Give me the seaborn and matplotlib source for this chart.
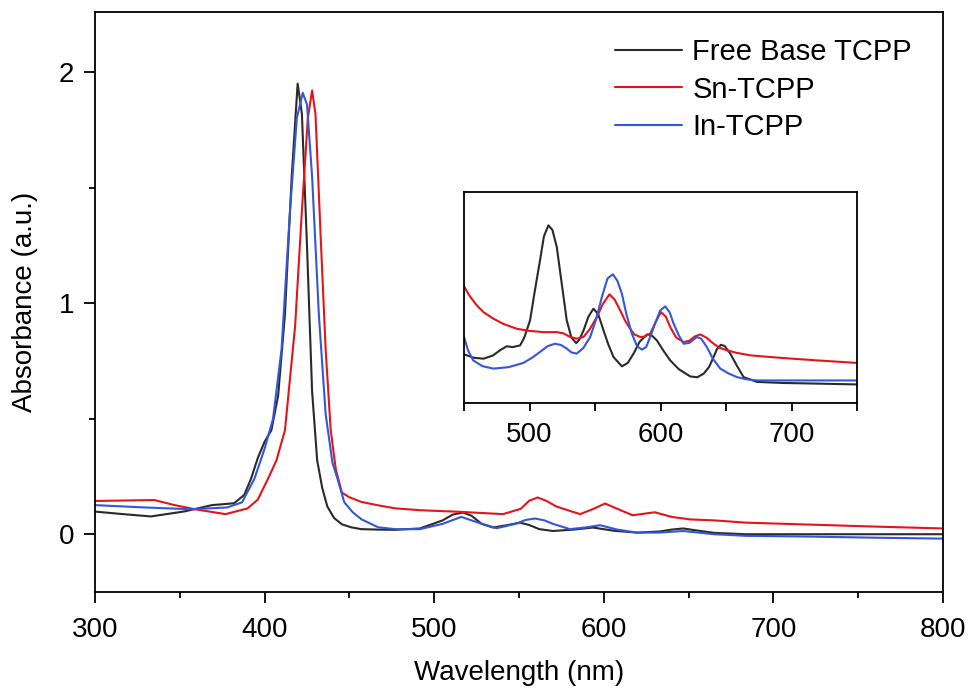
import pandas as pd
import seaborn as sns
import matplotlib.pyplot as plt
import matplotlib.ticker as ticker

# Main spectra (wavelength in nm, absorbance)
fb_wl = [300, 315, 333, 353, 369, 382, 388, 392, 396, 400, 404, 408, 412, 416, 419.5,
         422, 425, 428, 431, 434, 437, 441, 445.6, 451, 457, 467, 477, 491.6, 505, 511,
         517, 522, 528, 534.7, 542, 550.6, 556, 562, 570, 582, 593.6, 606, 619.6, 633,
         640, 646.7, 655, 665, 684, 720, 760, 800]
fb_abs = [0.098, 0.088, 0.077, 0.099, 0.126, 0.134, 0.17, 0.24, 0.33, 0.40, 0.45, 0.60,
          0.95, 1.55, 1.95, 1.82, 1.25, 0.62, 0.32, 0.20, 0.12, 0.07, 0.043, 0.03, 0.022,
          0.02, 0.019, 0.025, 0.06, 0.085, 0.094, 0.08, 0.045, 0.029, 0.038, 0.05, 0.04,
          0.022, 0.014, 0.02, 0.029, 0.015, 0.007, 0.012, 0.02, 0.025, 0.016, 0.006,
          0.0, 0.0, 0.0, 0.0]

sn_wl = [300, 335, 347, 359, 377, 390, 396, 402, 407, 412, 418, 422, 425.5, 428, 430,
         433, 436, 439, 442, 445.6, 450, 457, 467, 477, 491.6, 515, 540.6, 551, 556, 561,
         566, 572, 586, 594, 600.7, 608, 617, 623, 630, 640, 651, 665, 684, 720, 760, 800]
sn_abs = [0.144, 0.148, 0.126, 0.108, 0.087, 0.112, 0.15, 0.24, 0.32, 0.45, 0.9, 1.4,
          1.8, 1.92, 1.82, 1.3, 0.8, 0.45, 0.28, 0.18, 0.16, 0.14, 0.125, 0.112, 0.104,
          0.097, 0.087, 0.11, 0.145, 0.159, 0.145, 0.12, 0.087, 0.11, 0.133, 0.11, 0.082,
          0.088, 0.095, 0.075, 0.064, 0.06, 0.05, 0.042, 0.033, 0.025]

in_wl = [300, 329, 357, 378, 386.7, 394, 400, 405, 410, 415, 419, 422.5, 425, 428, 432,
         436, 440, 443, 447, 452, 457, 467, 477, 491.6, 505, 516, 526, 536.8, 548, 554,
         559.4, 565, 570, 580, 590, 597.8, 608, 619.6, 633, 646.7, 665, 684, 720, 760, 800]
in_abs = [0.126, 0.116, 0.108, 0.116, 0.138, 0.24, 0.37, 0.5, 0.8, 1.4, 1.8, 1.91, 1.86,
          1.55, 0.95, 0.52, 0.31, 0.24, 0.138, 0.095, 0.065, 0.03, 0.022, 0.022, 0.045,
          0.075, 0.05, 0.026, 0.045, 0.062, 0.068, 0.06, 0.045, 0.022, 0.03, 0.039, 0.02,
          0.007, 0.007, 0.014, 0.0, -0.007, -0.01, -0.015, -0.019]

# Inset Q-band spectra (relative units, fraction of inset height)
ins_fb_wl = [450, 457, 464.8, 472, 477.5, 482.6, 487, 492.8, 496, 500.4, 504, 508, 511,
             514.4, 517.5, 520.8, 524.5, 528.4, 532, 535.6, 538, 541.2, 545, 548.8, 552.5,
             556.5, 560, 564.1, 570.5, 575, 579.4, 584, 589.6, 593, 597.2, 602, 607.4, 614,
             622.7, 628, 632.9, 637, 640.5, 643, 646.1, 649, 653.3, 658, 663.4, 673.6, 694,
             720, 750]
ins_fb_val = [0.231, 0.215, 0.210, 0.225, 0.25, 0.269, 0.265, 0.273, 0.31, 0.392, 0.53,
              0.676, 0.79, 0.842, 0.82, 0.739, 0.57, 0.392, 0.31, 0.284, 0.30, 0.344, 0.41,
              0.447, 0.42, 0.344, 0.28, 0.218, 0.174, 0.19, 0.234, 0.29, 0.325, 0.322, 0.297,
              0.25, 0.202, 0.16, 0.126, 0.122, 0.139, 0.17, 0.218, 0.255, 0.276, 0.27, 0.234,
              0.18, 0.123, 0.10, 0.095, 0.092, 0.088]

ins_sn_wl = [450, 454, 459.7, 465, 472.4, 480, 490.2, 500, 510.6, 520.8, 526, 531, 536,
             541.2, 546, 551.4, 556, 561, 565, 569.2, 573, 576.8, 580, 584.5, 588, 592.1,
             596, 600.3, 604, 607.4, 612, 617.6, 622, 626, 630.3, 635, 640.5, 645, 650.7,
             658, 668.5, 680, 694, 719.5, 750]
ins_sn_val = [0.553, 0.51, 0.463, 0.43, 0.40, 0.375, 0.352, 0.342, 0.336, 0.336, 0.33,
              0.313, 0.305, 0.313, 0.35, 0.408, 0.47, 0.515, 0.49, 0.439, 0.39, 0.352,
              0.325, 0.313, 0.315, 0.329, 0.38, 0.431, 0.41, 0.36, 0.31, 0.289, 0.295, 0.315,
              0.325, 0.31, 0.281, 0.262, 0.25, 0.238, 0.226, 0.22, 0.213, 0.202, 0.19]

ins_in_wl = [450, 453, 457, 464, 472.4, 484, 495.3, 502, 508, 514, 519.5, 524, 528.4,
             532, 536, 541, 546.3, 551, 555.2, 559.5, 563.6, 567, 570.5, 574, 578.1, 582,
             585.8, 589, 592.1, 596, 599.8, 603.6, 607, 610, 614, 617.6, 622, 627.8, 631,
             635.4, 640, 645.6, 652, 658.3, 665, 673.6, 700, 750]
ins_in_val = [0.313, 0.25, 0.202, 0.175, 0.163, 0.17, 0.19, 0.215, 0.242, 0.27, 0.281,
              0.275, 0.258, 0.24, 0.234, 0.26, 0.313, 0.40, 0.502, 0.59, 0.61, 0.58, 0.518,
              0.42, 0.329, 0.27, 0.253, 0.265, 0.313, 0.38, 0.439, 0.458, 0.43, 0.376, 0.32,
              0.281, 0.285, 0.313, 0.305, 0.265, 0.21, 0.163, 0.14, 0.123, 0.113, 0.107,
              0.107, 0.107]

names = ["Free Base TCPP", "Sn-TCPP", "In-TCPP"]
colors = ["#2a2a2a", "#e4141b", "#3456d8"]

sns.set_style("white")
plt.rcParams['font.family'] = ['Liberation Sans', 'DejaVu Sans']
plt.rcParams['axes.linewidth'] = 1.3
plt.rcParams['text.color'] = 'black'
plt.rcParams['axes.labelcolor'] = 'black'
plt.rcParams['xtick.color'] = 'black'
plt.rcParams['ytick.color'] = 'black'

fig = plt.figure(figsize=(9.72, 6.92), dpi=100)
ax = fig.add_axes([0.0977, 0.1445, 0.8725, 0.8382])

main = [(fb_wl, fb_abs), (sn_wl, sn_abs), (in_wl, in_abs)]
for (wl, a), name, c in zip(main, names, colors):
	sns.lineplot(x=wl, y=a, ax=ax, color=c, linewidth=1.5, label=name, sort=False)

ax.set_xlim(300, 800)
ax.set_ylim(-0.25, 2.26)
ax.xaxis.set_major_locator(ticker.MultipleLocator(100))
ax.xaxis.set_minor_locator(ticker.MultipleLocator(50))
ax.yaxis.set_major_locator(ticker.MultipleLocator(1))
ax.yaxis.set_minor_locator(ticker.MultipleLocator(0.5))
ax.tick_params(which='both', direction='out', bottom=True, left=True, top=False, right=False,
               width=1.3, labelsize=20, color='black', labelcolor='black')
ax.tick_params(which='major', length=8)
ax.tick_params(axis='x', which='major', pad=10)
ax.tick_params(axis='y', which='major', pad=7)
ax.tick_params(which='minor', length=4.5)
for s in ax.spines.values():
	s.set_color('black')
ax.set_xlabel("Wavelength (nm)", fontsize=20, labelpad=12)
ax.set_ylabel("Absorbance (a.u.)", fontsize=20, labelpad=15)

leg = ax.legend(loc='upper right', frameon=False, fontsize=21, handlelength=2.3,
                handletextpad=0.35, labelspacing=0.32, borderaxespad=0.2,
                bbox_to_anchor=(0.984, 0.985))
for line in leg.get_lines():
	line.set_linewidth(1.5)

# Inset with Q bands
ins = fig.add_axes([0.4774, 0.4176, 0.4043, 0.3049])
inset = [(ins_fb_wl, ins_fb_val), (ins_sn_wl, ins_sn_val), (ins_in_wl, ins_in_val)]
for (wl, v), c in zip(inset, colors):
	sns.lineplot(x=wl, y=v, ax=ins, color=c, linewidth=1.5, sort=False, legend=False)
ins.set_xlim(450, 750)
ins.set_ylim(0, 1)
ins.xaxis.set_major_locator(ticker.MultipleLocator(100))
ins.xaxis.set_minor_locator(ticker.MultipleLocator(50))
ins.set_yticks([])
ins.tick_params(which='both', direction='out', bottom=True, left=False, length=6,
                width=1.3, labelsize=20, color='black', labelcolor='black', pad=8)
for s in ins.spines.values():
	s.set_color('black')

plt.savefig("out.png", dpi=100)
plt.close()
